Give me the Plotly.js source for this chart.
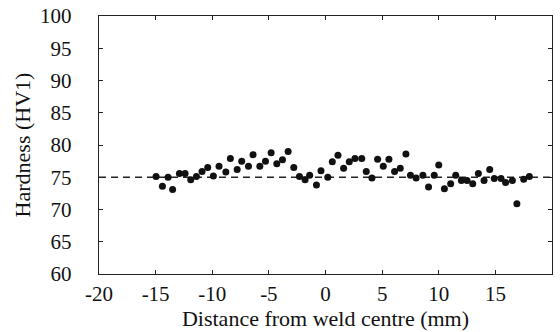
<!DOCTYPE html>
<html>
<head>
<meta charset="utf-8">
<script src="https://cdn.plot.ly/plotly-3.0.1.min.js"></script>
<style>html,body{margin:0;padding:0;background:#fff;}</style>
</head>
<body>
<div id="chart" style="width:560px;height:332px;"></div>
<script>
const distance = [-14.96, -14.4, -13.9, -13.5, -12.9, -12.4, -11.9, -11.4, -10.9, -10.4,
  -9.9, -9.4, -8.8, -8.4, -7.8, -7.4, -6.8, -6.4, -5.8, -5.3,
  -4.8, -4.3, -3.8, -3.3, -2.8, -2.3, -1.8, -1.4, -0.8, -0.4,
  0.2, 0.6, 1.1, 1.6, 2.1, 2.6, 3.2, 3.6, 4.1, 4.6,
  5.1, 5.6, 6.1, 6.6, 7.1, 7.5, 8.0, 8.6, 9.1, 9.6,
  10.0, 10.5, 11.05, 11.5, 12.0, 12.5, 13.0, 13.5, 14.0, 14.5,
  14.9, 15.5, 15.9, 16.5, 16.9, 17.5, 18.0];
const hardness = [75.1, 73.6, 75.0, 73.1, 75.6, 75.6, 74.6, 75.1, 75.9, 76.5,
  75.2, 76.7, 75.8, 77.9, 76.2, 77.5, 76.7, 78.5, 76.7, 77.5,
  78.8, 77.1, 77.7, 79.0, 76.5, 75.1, 74.6, 75.3, 73.8, 76.0,
  75.0, 77.4, 78.4, 76.4, 77.4, 77.9, 77.9, 75.9, 74.9, 77.8,
  76.7, 77.8, 75.9, 76.4, 78.6, 75.3, 74.9, 75.3, 73.5, 75.3,
  76.9, 73.2, 74.0, 75.3, 74.5, 74.5, 74.0, 75.6, 74.5, 76.2,
  74.8, 74.8, 74.2, 74.5, 70.9, 74.7, 75.1];
const refX = [-20, 20];
const refY = [75, 75];
const xTicks = [-20, -15, -10, -5, 0, 5, 10, 15, 20];
const yTicks = [60, 65, 70, 75, 80, 85, 90, 95, 100];

const font = {family: 'Liberation Serif, Times New Roman, serif', color: '#111'};
const tickSize = 21;
const titleSize = 22;

Plotly.newPlot('chart', [
  {x: refX, y: refY, mode: 'lines', line: {color: '#222', width: 1.3, dash: '7px,5px'}, hoverinfo: 'skip'},
  {x: distance, y: hardness, mode: 'markers', marker: {color: '#111', size: 7, symbol: 'circle'}}
], {
  width: 560, height: 332,
  margin: {l: 99, r: 8, t: 16, b: 58},
  showlegend: false,
  paper_bgcolor: '#fff', plot_bgcolor: '#fff',
  font: Object.assign({size: tickSize}, font),
  xaxis: {
    range: [-20, 20], tickvals: xTicks, ticktext: xTicks.map(String),
    showgrid: false, zeroline: false, showline: true, mirror: 'ticks',
    linecolor: '#222', linewidth: 1.3, ticks: 'inside', ticklen: 4, tickcolor: '#222',
    tickfont: Object.assign({size: tickSize}, font), ticklabelstandoff: 0,
    title: {text: 'Distance from weld centre (mm)', font: Object.assign({size: titleSize}, font), standoff: 3}
  },
  yaxis: {
    range: [60, 100], tickvals: yTicks, ticktext: yTicks.map(String),
    showgrid: false, zeroline: false, showline: true, mirror: 'ticks',
    linecolor: '#222', linewidth: 1.3, ticks: 'inside', ticklen: 4, tickcolor: '#222',
    tickfont: Object.assign({size: tickSize}, font), ticklabelstandoff: 22,
    title: {text: 'Hardness (HV1)', font: Object.assign({size: titleSize}, font), standoff: 3}
  }
}, {displayModeBar: false, staticPlot: true});
</script>
</body>
</html>
